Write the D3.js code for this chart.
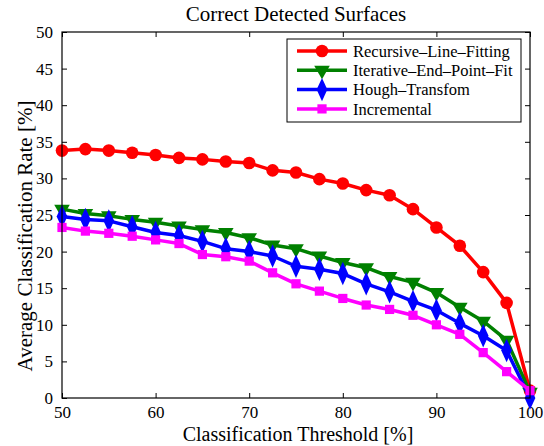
<!DOCTYPE html>
<html>
<head>
<meta charset="utf-8">
<script src="https://cdn.jsdelivr.net/npm/d3@7"></script>
<style>
  body { margin: 0; background: #fff; }
  svg text { font-family: "Liberation Serif", "DejaVu Serif", serif; fill: #000; }
</style>
</head>
<body>
<div id="chart"></div>
<script>
var thresholds = [50, 52.5, 55, 57.5, 60, 62.5, 65, 67.5, 70, 72.5, 75, 77.5, 80, 82.5, 85, 87.5, 90, 92.5, 95, 97.5, 100];

var recursiveLineFitting = [33.8, 34.0, 33.8, 33.5, 33.2, 32.8, 32.6, 32.3, 32.1, 31.1, 30.8, 29.9, 29.3, 28.4, 27.7, 25.8, 23.3, 20.8, 17.2, 13.0, 1.0];
var iterativeEndPointFit = [25.8, 25.2, 24.9, 24.4, 24.0, 23.5, 23.0, 22.6, 21.9, 20.9, 20.4, 19.4, 18.5, 17.8, 16.6, 15.8, 14.4, 12.4, 10.5, 7.9, 0.8];
var houghTransform = [24.8, 24.4, 24.2, 23.4, 22.6, 22.2, 21.4, 20.4, 20.0, 19.4, 18.0, 17.6, 17.0, 15.6, 14.5, 13.2, 12.0, 10.2, 8.5, 6.5, 0.0];
var incremental = [23.3, 22.8, 22.5, 22.1, 21.6, 21.1, 19.6, 19.3, 18.7, 17.1, 15.6, 14.6, 13.6, 12.7, 12.1, 11.3, 10.0, 8.7, 6.2, 3.6, 1.0];

var xTicks = [50, 60, 70, 80, 90, 100];
var yTicks = [0, 5, 10, 15, 20, 25, 30, 35, 40, 45, 50];

var series = [
  { name: "Recursive\u2013Line\u2013Fitting", values: recursiveLineFitting, color: "#ff0000", marker: "circle" },
  { name: "Iterative\u2013End\u2013Point\u2013Fit", values: iterativeEndPointFit, color: "#008000", marker: "triangle" },
  { name: "Hough\u2013Transfom", values: houghTransform, color: "#0000ff", marker: "diamond" },
  { name: "Incremental", values: incremental, color: "#ff00ff", marker: "square" }
];

var width = 544, height = 446;
var margin = { top: 32, right: 14, bottom: 48, left: 62 };
var innerW = width - margin.left - margin.right,
    innerH = height - margin.top - margin.bottom;

var svg = d3.select("#chart").append("svg")
    .attr("width", width)
    .attr("height", height);

var g = svg.append("g")
    .attr("transform", "translate(" + margin.left + "," + margin.top + ")");

var x = d3.scaleLinear().domain([50, 100]).range([0, innerW]);
var y = d3.scaleLinear().domain([0, 50]).range([innerH, 0]);

// axes, ticks point inward like matlab
var tickLen = 5;
g.append("g")
    .attr("transform", "translate(0," + innerH + ")")
    .call(d3.axisBottom(x).tickValues(xTicks).tickSizeInner(-tickLen).tickSizeOuter(0).tickPadding(8))
    .call(styleAxis);
g.append("g")
    .call(d3.axisTop(x).tickValues(xTicks).tickSizeInner(-tickLen).tickSizeOuter(0).tickFormat(""))
    .call(styleAxis);
g.append("g")
    .call(d3.axisLeft(y).tickValues(yTicks).tickSizeInner(-tickLen).tickSizeOuter(0).tickPadding(9))
    .call(styleAxis);
g.append("g")
    .attr("transform", "translate(" + innerW + ",0)")
    .call(d3.axisRight(y).tickValues(yTicks).tickSizeInner(-tickLen).tickSizeOuter(0).tickFormat(""))
    .call(styleAxis);

function styleAxis(sel) {
  sel.select(".domain").remove();
  sel.selectAll(".tick line").attr("stroke", "#000").attr("stroke-width", 1);
  sel.selectAll(".tick text")
    .style("font-family", '"Liberation Serif", serif')
    .style("font-size", "17px")
    .attr("fill", "#000");
}

var markerSize = {
  circle: 125,
  triangle: 105,
  diamond: 110,
  square: 85
};
var symbolType = {
  circle: d3.symbolCircle,
  triangle: d3.symbolTriangle,
  diamond: d3.symbolDiamond,
  square: d3.symbolSquare
};

function markerPath(m) {
  return d3.symbol().type(symbolType[m]).size(markerSize[m])();
}
function markerTransform(m, px, py) {
  if (m === "triangle") return "translate(" + px + "," + py + ") rotate(180)";
  if (m === "diamond") return "translate(" + px + "," + py + ") scale(0.95,1.2)";
  return "translate(" + px + "," + py + ")";
}

var line = d3.line()
    .x(function(d, i) { return x(thresholds[i]); })
    .y(function(d) { return y(d); });

series.forEach(function(s) {
  var sg = g.append("g");
  sg.append("path")
      .attr("d", line(s.values))
      .attr("fill", "none")
      .attr("stroke", s.color)
      .attr("stroke-width", 3.5)
      .attr("stroke-linejoin", "round");
  sg.selectAll("path.mk")
      .data(s.values)
      .enter().append("path")
      .attr("class", "mk")
      .attr("d", markerPath(s.marker))
      .attr("transform", function(d, i) { return markerTransform(s.marker, x(thresholds[i]), y(d)); })
      .attr("fill", s.color);
});

// box
g.append("rect")
    .attr("width", innerW)
    .attr("height", innerH)
    .attr("fill", "none")
    .attr("stroke", "#000")
    .attr("stroke-width", 1.2);

// legend
var lx = 287 - margin.left, ly = 39 - margin.top, lw = 234, lh = 83;
var legend = g.append("g").attr("transform", "translate(" + lx + "," + ly + ")");
legend.append("rect")
    .attr("width", lw)
    .attr("height", lh)
    .attr("fill", "#fff")
    .attr("stroke", "#000")
    .attr("stroke-width", 1);
series.forEach(function(s, i) {
  var yy = 12 + i * 19.3;
  legend.append("line")
      .attr("x1", 10).attr("x2", 60)
      .attr("y1", yy).attr("y2", yy)
      .attr("stroke", s.color)
      .attr("stroke-width", 3.5);
  legend.append("path")
      .attr("d", markerPath(s.marker))
      .attr("transform", markerTransform(s.marker, 35, yy))
      .attr("fill", s.color);
  legend.append("text")
      .attr("x", 66)
      .attr("y", yy)
      .attr("dy", "0.35em")
      .style("font-size", "16.5px")
      .text(s.name);
});

// title and axis labels
svg.append("text")
    .attr("x", margin.left + innerW / 2)
    .attr("y", 21)
    .attr("text-anchor", "middle")
    .style("font-size", "21px")
    .text("Correct Detected Surfaces");

svg.append("text")
    .attr("x", margin.left + innerW / 2 + 2)
    .attr("y", 441)
    .attr("text-anchor", "middle")
    .style("font-size", "20px")
    .text("Classification Threshold [%]");

svg.append("text")
    .attr("transform", "translate(32,236) rotate(-90)")
    .attr("text-anchor", "middle")
    .style("font-size", "21px")
    .text("Average Classification Rate [%]");
</script>
</body>
</html>
